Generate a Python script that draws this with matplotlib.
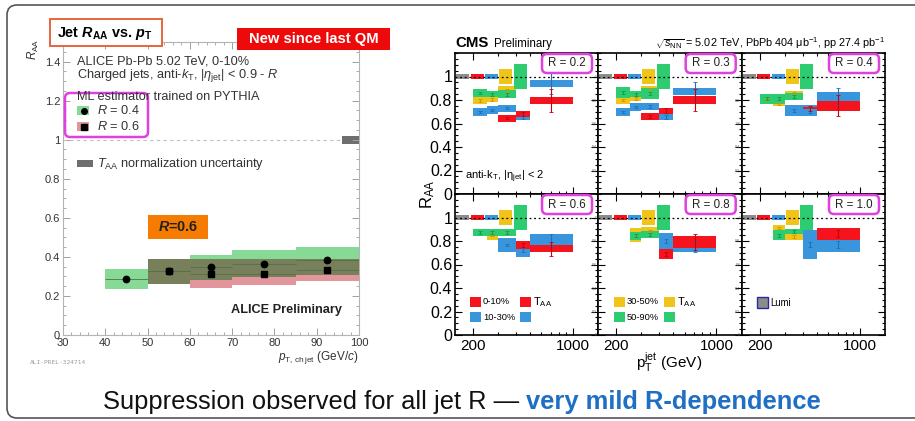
import numpy as np
import matplotlib
matplotlib.use("Agg")
import matplotlib.pyplot as plt
from matplotlib.patches import Rectangle, FancyBboxPatch
from matplotlib.ticker import MultipleLocator, FixedLocator, NullFormatter
from matplotlib.colors import to_rgb

plt.rcParams['font.family'] = ['Liberation Sans', 'DejaVu Sans']
plt.rcParams['mathtext.fontset'] = 'custom'
plt.rcParams['mathtext.rm'] = 'Liberation Sans'
plt.rcParams['mathtext.it'] = 'Liberation Sans:italic'
plt.rcParams['mathtext.bf'] = 'Liberation Sans:bold'
plt.rcParams['mathtext.bfit'] = 'Liberation Sans:italic:bold'

nan = np.nan

# ---- ALICE charged-jet RAA, 0-10% ----
alice_r04_edges = [40, 50, 60, 70, 85, 100]
alice_r04_val = [0.285, 0.326, 0.348, 0.361, 0.385]
alice_r04_lo = [0.234, 0.263, 0.284, 0.297, 0.309]
alice_r04_hi = [0.340, 0.387, 0.412, 0.433, 0.453]
alice_r06_edges = [50, 60, 70, 85, 100]
alice_r06_val = [0.326, 0.314, 0.314, 0.334]
alice_r06_lo = [0.263, 0.241, 0.255, 0.275]
alice_r06_hi = [0.387, 0.387, 0.387, 0.390]
alice_taa_unc = 0.02

# ---- CMS jet RAA vs R ----
cms_edges = [200, 250, 300, 400, 500, 1000]
cms_radii = ['0.2', '0.3', '0.4', '0.6', '0.8', '1.0']
cent_labels = ['0-10%', '10-30%', '30-50%', '50-90%']
lumi_unc = 0.02
taa_unc = [0.02, 0.022, 0.06, 0.11]

raa_0_10 = [[nan, nan, 0.645, 0.68, 0.795],
            [nan, nan, 0.66, 0.71, 0.80],
            [nan, nan, nan, 0.73, 0.75],
            [nan, nan, nan, 0.765, 0.735],
            [nan, nan, nan, 0.69, 0.79],
            [nan, nan, nan, nan, 0.86]]
sys_0_10 = [[nan, nan, 0.03, 0.023, 0.033],
            [nan, nan, 0.033, 0.025, 0.033],
            [nan, nan, nan, 0.008, 0.04],
            [nan, nan, nan, 0.035, 0.03],
            [nan, nan, nan, 0.045, 0.05],
            [nan, nan, nan, nan, 0.05]]
stat_0_10 = [[nan, nan, 0.01, 0.02, 0.095],
             [nan, nan, 0.01, 0.02, 0.09],
             [nan, nan, nan, 0.02, 0.09],
             [nan, nan, nan, 0.02, 0.06],
             [nan, nan, nan, 0.02, 0.07],
             [nan, nan, nan, nan, 0.03]]

raa_10_30 = [[0.70, 0.715, 0.73, 0.655, 0.94],
             [0.70, 0.74, 0.745, 0.655, 0.87],
             [nan, nan, 0.71, 0.71, 0.83],
             [nan, nan, 0.765, 0.727, 0.81],
             [nan, nan, nan, 0.80, 0.755],
             [nan, nan, nan, 0.77, 0.77]]
sys_10_30 = [[0.035, 0.035, 0.03, 0.022, 0.027],
             [0.035, 0.032, 0.033, 0.027, 0.03],
             [nan, nan, 0.045, 0.045, 0.035],
             [nan, nan, 0.057, 0.063, 0.05],
             [nan, nan, nan, 0.07, 0.05],
             [nan, nan, nan, 0.12, 0.06]]
stat_10_30 = [[0.01, 0.01, 0.01, 0.02, 0.09],
              [0.01, 0.01, 0.01, 0.02, 0.08],
              [nan, nan, 0.01, 0.02, 0.07],
              [nan, nan, 0.01, 0.02, 0.05],
              [nan, nan, nan, 0.02, 0.05],
              [nan, nan, nan, 0.02, 0.03]]

raa_30_50 = [[0.795, 0.805, 0.88, nan, nan],
             [0.80, 0.81, 0.88, nan, nan],
             [0.80, 0.77, 0.855, nan, nan],
             [nan, 0.855, 0.87, nan, nan],
             [nan, 0.85, 0.885, nan, nan],
             [nan, 0.91, 0.835, nan, nan]]
sys_30_50 = [[0.03, 0.025, 0.04, nan, nan],
             [0.03, 0.02, 0.04, nan, nan],
             [0.03, 0.022, 0.02, nan, nan],
             [nan, 0.05, 0.03, nan, nan],
             [nan, 0.06, 0.03, nan, nan],
             [nan, 0.03, 0.025, nan, nan]]
stat_30_50 = [[0.012, 0.012, 0.012, nan, nan],
              [0.012, 0.012, 0.012, nan, nan],
              [0.012, 0.012, 0.012, nan, nan],
              [nan, 0.012, 0.012, nan, nan],
              [nan, 0.012, 0.012, nan, nan],
              [nan, 0.012, 0.012, nan, nan]]

raa_50_90 = [[0.86, 0.85, 0.85, nan, nan],
             [0.865, 0.85, 0.855, nan, nan],
             [0.81, 0.81, 0.83, nan, nan],
             [0.87, 0.87, 0.875, nan, nan],
             [nan, 0.845, 0.855, nan, nan],
             [nan, 0.85, 0.88, nan, nan]]
sys_50_90 = [[0.032, 0.025, 0.032, nan, nan],
             [0.045, 0.025, 0.05, nan, nan],
             [0.04, 0.04, 0.028, nan, nan],
             [0.028, 0.028, 0.03, nan, nan],
             [nan, 0.035, 0.03, nan, nan],
             [nan, 0.04, 0.02, nan, nan]]
stat_50_90 = [[0.012, 0.012, 0.012, nan, nan],
              [0.012, 0.012, 0.012, nan, nan],
              [0.012, 0.012, 0.012, nan, nan],
              [0.012, 0.012, 0.012, nan, nan],
              [nan, 0.012, 0.012, nan, nan],
              [nan, 0.012, 0.012, nan, nan]]

# normalisation boxes sit at fixed pT slots near RAA = 1
norm_pt = [170, 214, 269, 338, 428]
norm_halfwidth = 1.11

RED, BLUE, YELLOW, GREEN, GRAY = '#f5141e', '#3a96dc', '#f0c419', '#2ecc71', '#8c8c8c'
DARK = {RED: '#c8000a', BLUE: '#1f70b8', YELLOW: '#c99a00', GREEN: '#169a4c'}
MAGENTA = '#e040e0'
A_GREEN, A_RED = '#87da96', '#e2969b'

W, H = 915, 421
fig = plt.figure(figsize=(W / 100, H / 100), dpi=100)


def px_axes(x0, y0, x1, y1, **kw):
    return fig.add_axes([x0 / W, 1 - y1 / H, (x1 - x0) / W, (y1 - y0) / H], **kw)


# ================= ALICE panel =================
ax = px_axes(63, 42, 359, 335)
ax.set_xlim(30, 100)
ax.set_ylim(0, 1.5)
for s in ax.spines.values():
    s.set_color('#b4b4b4')
    s.set_linewidth(0.8)
ax.xaxis.set_major_locator(MultipleLocator(10))
ax.xaxis.set_minor_locator(MultipleLocator(2))
ax.yaxis.set_major_locator(FixedLocator([0, 0.2, 0.4, 0.6, 0.8, 1.0, 1.2, 1.4]))
ax.yaxis.set_minor_locator(MultipleLocator(0.05))
ax.yaxis.set_major_formatter(plt.FuncFormatter(lambda v, p: '%g' % round(v, 2)))
ax.tick_params(which='both', direction='in', top=True, right=True, color='#a0a0a0',
               labelsize=8, labelcolor='#333333', pad=2)
ax.tick_params(which='major', length=5, width=0.7)
ax.tick_params(which='minor', length=2.5, width=0.6)

e04 = np.array(alice_r04_edges, float)
e06 = np.array(alice_r06_edges, float)
for i in range(len(alice_r04_val)):
    ax.add_patch(Rectangle((e04[i], alice_r04_lo[i]), e04[i + 1] - e04[i],
                           alice_r04_hi[i] - alice_r04_lo[i], fc=A_GREEN, ec='none', zorder=2))
for j in range(len(alice_r06_val)):
    ax.add_patch(Rectangle((e06[j], alice_r06_lo[j]), e06[j + 1] - e06[j],
                           alice_r06_hi[j] - alice_r06_lo[j], fc=A_RED, ec='none', zorder=2))
# where the two uncertainty bands overlap the colours multiply
mix = tuple(a * b for a, b in zip(to_rgb(A_GREEN), to_rgb(A_RED)))
for j in range(len(alice_r06_val)):
    i = alice_r04_edges.index(alice_r06_edges[j])
    lo = max(alice_r04_lo[i], alice_r06_lo[j])
    hi = min(alice_r04_hi[i], alice_r06_hi[j])
    if hi > lo:
        ax.add_patch(Rectangle((e06[j], lo), e06[j + 1] - e06[j], hi - lo,
                               fc=mix, ec='none', zorder=3))

ax.hlines(alice_r04_val, e04[:-1], e04[1:], colors='#55704a', lw=0.6, zorder=4)
ax.hlines(alice_r06_val, e06[:-1], e06[1:], colors='#55704a', lw=0.6, zorder=4)
c04 = 0.5 * (e04[:-1] + e04[1:])
c06 = 0.5 * (e06[:-1] + e06[1:])
ax.plot(c04, alice_r04_val, 'o', color='k', ms=4.6, zorder=5)
ax.plot(c06, alice_r06_val, 's', color='k', ms=4.6, zorder=6)
ax.hlines(1, 30, 96, colors='#c0c0c0', linestyles=(0, (3, 3)), lw=0.8)
ax.add_patch(Rectangle((96, 1 - alice_taa_unc), 4, 2 * alice_taa_unc, fc='#6e6e6e', ec='none'))

# ================= CMS panels =================
xs = [455, 598, 741.7, 885]
ys = [53, 194, 335]
series = [
    (raa_10_30, sys_10_30, stat_10_30, BLUE),
    (raa_0_10, sys_0_10, stat_0_10, RED),
    (raa_30_50, sys_30_50, stat_30_50, YELLOW),
    (raa_50_90, sys_50_90, stat_50_90, GREEN),
]
edges = np.array(cms_edges, float)
centres = np.sqrt(edges[:-1] * edges[1:])
panels = []
for k, rad in enumerate(cms_radii):
    r, c = divmod(k, 3)
    a = px_axes(xs[c], ys[r], xs[c + 1], ys[r + 1])
    panels.append(a)
    a.set_xscale('log')
    a.set_xlim(150, 1500)
    a.set_ylim(0, 1.2)
    for s in a.spines.values():
        s.set_linewidth(1.2)
    a.xaxis.set_major_locator(FixedLocator([200, 1000]))
    a.xaxis.set_minor_locator(FixedLocator([300, 400, 500, 600, 700, 800, 900]))
    a.xaxis.set_minor_formatter(NullFormatter())
    a.yaxis.set_major_locator(FixedLocator([0, 0.2, 0.4, 0.6, 0.8, 1.0]))
    a.yaxis.set_minor_locator(MultipleLocator(0.05))
    a.yaxis.set_major_formatter(plt.FuncFormatter(lambda v, p: '%g' % round(v, 2)))
    a.tick_params(which='both', direction='in', top=True, right=True, width=0.8)
    a.tick_params(which='major', length=5)
    a.tick_params(which='minor', length=2.5)
    if r == 1:
        a.set_xticklabels(['200', '1000'])
        a.tick_params(axis='x', labelsize=11, pad=3)
    else:
        a.set_xticklabels([])
    if c == 0:
        a.tick_params(axis='y', labelsize=11.5, pad=2)
    else:
        a.tick_params(axis='y', labelsize=2.5, labelcolor='#555555', pad=1)

    for vals, syss, stats, col in series:
        v = np.array(vals[k], float)
        sy = np.array(syss[k], float)
        st = np.array(stats[k], float)
        for b in range(len(v)):
            if np.isnan(v[b]):
                continue
            a.add_patch(Rectangle((edges[b], v[b] - sy[b]), edges[b + 1] - edges[b],
                                  2 * sy[b], fc=col, ec='none', zorder=2))
        ok = ~np.isnan(v)
        a.errorbar(centres[ok], v[ok], yerr=st[ok], fmt='none', ecolor=DARK[col],
                   elinewidth=0.8, capsize=1.3, capthick=0.6, zorder=3)

    for pt, hw, col in zip(norm_pt, [lumi_unc] + taa_unc, [GRAY, RED, BLUE, YELLOW, GREEN]):
        a.add_patch(Rectangle((pt / norm_halfwidth, 1 - hw), pt * norm_halfwidth - pt / norm_halfwidth,
                              2 * hw, fc=col, ec='none', zorder=4))
    a.axhline(1, color='k', ls=(0, (1.5, 2.2)), lw=0.9, zorder=5)

# ================= overlay: labels, boxes, slide text =================
ov = fig.add_axes([0, 0, 1, 1], zorder=10)
ov.patch.set_alpha(0)
ov.set_xlim(0, W)
ov.set_ylim(H, 0)
ov.axis('off')

ov.add_patch(FancyBboxPatch((7, 5), 940, 413, boxstyle='round,pad=0,rounding_size=10',
                            fc='none', ec='#555555', lw=1.2))

# ALICE annotations
ov.add_patch(Rectangle((50, 19), 112, 27, fc='white', ec='#e8653a', lw=1.4))
ov.text(57, 33, r'Jet $\mathbfit{R}_{\mathbf{AA}}$ vs. $\mathbfit{p}_{\mathbf{T}}$',
        fontsize=10.4, fontweight='bold', va='center', ha='left')
ov.add_patch(Rectangle((237, 28), 153, 22, fc='#ee0a0a', ec='none'))
ov.text(313.5, 39.5, 'New since last QM', color='white', fontsize=10.6, fontweight='bold',
        va='center', ha='center')
ov.text(33, 49, r'$R_{\mathrm{AA}}$', rotation=90, fontsize=8.5, ha='center', va='center',
        color='#333333')
ov.text(77, 61, 'ALICE Pb-Pb 5.02 TeV, 0-10%', fontsize=9.2, va='center', color='#333333')
ov.text(77, 76, r'Charged jets, anti-$k_{\mathrm{T}}$, $|\eta_{\mathrm{jet}}|$ < 0.9 - $R$',
        fontsize=9.2, va='center', color='#333333')
ov.text(77, 97, 'ML estimator trained on PYTHIA', fontsize=9.2, va='center', color='#333333')
ov.add_patch(Rectangle((77, 106), 12, 9, fc=A_GREEN, ec='none'))
ov.plot([83.5], [110.5], 'o', color='k', ms=4)
ov.text(97, 110.5, r'$R$ = 0.4', fontsize=9.2, va='center', color='#333333')
ov.add_patch(Rectangle((77, 122), 12, 9, fc=A_RED, ec='none'))
ov.plot([83.5], [126.5], 's', color='k', ms=4)
ov.text(97, 126.5, r'$R$ = 0.6', fontsize=9.2, va='center', color='#333333')
ov.add_patch(FancyBboxPatch((65, 93), 83, 44, boxstyle='round,pad=0,rounding_size=5',
                            fc='none', ec=MAGENTA, lw=1.8))
ov.add_patch(Rectangle((77, 160), 16, 7, fc='#6e6e6e', ec='none'))
ov.text(97, 163.5, r'$T_{\mathrm{AA}}$ normalization uncertainty', fontsize=9.2, va='center',
        color='#333333')
ov.add_patch(Rectangle((148, 215), 60, 24, fc='#f57c00', ec='none'))
ov.text(178, 227, r'$\mathbfit{R}$=0.6', fontsize=10.4, fontweight='bold', ha='center',
        va='center', color='#222222')
ov.text(231, 310, 'ALICE Preliminary', fontsize=9.2, fontweight='bold', va='center',
        color='#222222')
ov.text(359, 357, r'$p_{\mathrm{T,\,ch\,jet}}$ (GeV/$c$)', fontsize=8.5, ha='right',
        va='center', color='#333333')
ov.text(30, 362, 'ALI-PREL-324714', fontsize=4.5, family='DejaVu Sans Mono', va='center',
        color='#9a9a9a')

# CMS annotations
ov.text(455, 43, 'CMS', fontsize=10.8, fontweight='bold', va='center')
ov.text(494, 44, 'Preliminary', fontsize=8.3, va='center')
ov.text(885, 43, r'$\sqrt{s_{\mathrm{NN}}}$ = 5.02 TeV, PbPb 404 $\mathrm{\mu}$b$^{-1}$, pp 27.4 pb$^{-1}$',
        fontsize=7.8, ha='right', va='center')
ov.text(465, 177, r'anti-k$_{\mathrm{T}}$, |$\mathrm{\eta}_{\mathrm{jet}}$| < 2', fontsize=8,
        va='center')
ov.text(428, 194, r'$\mathrm{R}_{\mathrm{AA}}$', fontsize=12, rotation=90, ha='center',
        va='center')
ov.text(702, 362, r'$\mathrm{p}_{\mathrm{T}}^{\mathrm{jet}}$ (GeV)', fontsize=11, ha='right',
        va='center')
for k, rad in enumerate(cms_radii):
    r, c = divmod(k, 3)
    x1 = xs[c + 1] - 6
    y0 = ys[r] + 1
    ov.add_patch(FancyBboxPatch((x1 - 50, y0), 50, 19, boxstyle='round,pad=0,rounding_size=5',
                                fc='white', ec=MAGENTA, lw=1.8))
    ov.text(x1 - 25, y0 + 9.5, 'R = ' + rad, fontsize=8.3, ha='center', va='center',
            color='#222222')

legend_items = [
    (470, 297, RED, cent_labels[0]), (520, 297, RED, r'T$_{\mathrm{AA}}$'),
    (470, 312, BLUE, cent_labels[1]), (520, 312, BLUE, ''),
    (614, 297, YELLOW, cent_labels[2]), (664, 297, YELLOW, r'T$_{\mathrm{AA}}$'),
    (614, 312, GREEN, cent_labels[3]), (664, 312, GREEN, ''),
]
for lx, ly, col, lab in legend_items:
    ov.add_patch(Rectangle((lx, ly), 11, 10, fc=col, ec='none'))
    if lab:
        fs = 8 if 'T' in lab else 6.7
        ov.text(lx + 13, ly + 5, lab, fontsize=fs, va='center')
ov.add_patch(Rectangle((757, 297), 11, 11, fc=GRAY, ec='#2a2a9a', lw=1))
ov.text(770, 302.5, 'Lumi', fontsize=6.9, va='center')

# slide summary line
t1 = ov.text(103, 409, 'Suppression observed for all jet R \u2014 ', fontsize=18.4,
             ha='left', va='baseline', color='#111111')
ov.annotate('very mild R-dependence', xy=(1, 0), xycoords=t1, va='bottom', ha='left',
            fontsize=18.4, fontweight='bold', color='#1f6fc5')

fig.savefig('out.png', dpi=100)
